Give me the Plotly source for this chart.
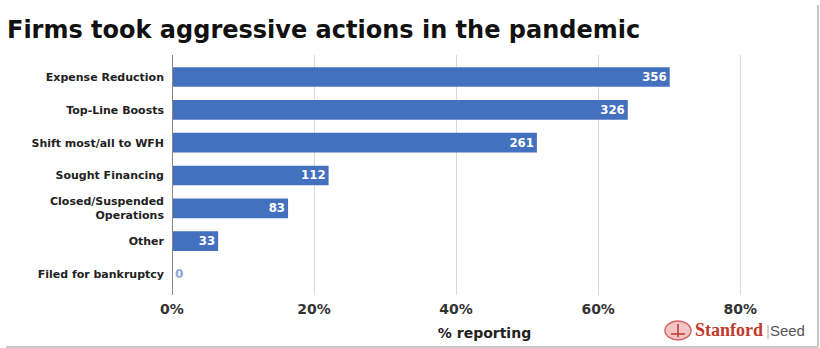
import plotly.graph_objects as go

categories = ["Expense Reduction", "Top-Line Boosts", "Shift most/all to WFH",
              "Sought Financing", "Closed/Suspended<br>Operations", "Other",
              "Filed for bankruptcy"]
counts = [356, 326, 261, 112, 83, 33, 0]
total_respondents = 508
tick_vals = [0, 20, 40, 60, 80]
tick_text = ["0%", "20%", "40%", "60%", "80%"]

pct = [c / total_respondents * 100 for c in counts]
positions = ["inside" if c > 0 else "outside" for c in counts]

W, H = 820, 348
L, R, T, B = 172, 23, 55, 53

fig = go.Figure(go.Bar(
    x=pct, y=categories, orientation="h",
    marker=dict(color="#4470C0", line=dict(width=0)),
    width=0.6,
    text=[str(c) for c in counts],
    textposition=positions,
    insidetextanchor="end",
    insidetextfont=dict(family="DejaVu Sans", size=12, color="white", weight="bold"),
    outsidetextfont=dict(family="DejaVu Sans", size=12, color="#8AA6DC", weight="bold"),
    textfont=dict(family="DejaVu Sans", size=12, weight="bold"),
    cliponaxis=False,
    hoverinfo="skip",
))

fig.update_layout(
    width=W, height=H,
    margin=dict(l=L, r=R, t=T, b=B, pad=0, autoexpand=False),
    paper_bgcolor="white", plot_bgcolor="white",
    showlegend=False,
    title=dict(text="<b>Firms took aggressive actions in the pandemic</b>",
               font=dict(family="DejaVu Sans", size=24, color="#111"),
               x=7 / W, xanchor="left", xref="container",
               y=1 - 30 / H, yanchor="middle", yref="container",
               automargin=False),
    xaxis=dict(range=[0, 88], tickvals=tick_vals, ticktext=tick_text,
               automargin=False,
               showgrid=True, gridcolor="#D9D9D9", gridwidth=1,
               zeroline=False, showline=False, ticks="",
               ticklabelstandoff=4,
               tickfont=dict(family="DejaVu Sans", size=14, color="#333", weight="bold"),
               title=dict(text="<b>% reporting</b>", standoff=12,
                          font=dict(family="DejaVu Sans", size=14, color="#222")),
               fixedrange=True),
    yaxis=dict(autorange=False, range=[6.64, -0.67], type="category",
               automargin=False,
               showgrid=False, zeroline=False, ticks="", ticklabelstandoff=7,
               showline=False,
               tickfont=dict(family="DejaVu Sans", size=11, color="#222", weight="bold"),
               fixedrange=True),
    bargap=0.4,
)

# dark vertical axis line at 0
fig.add_shape(type="line", xref="x", yref="paper", x0=0, x1=0, y0=0, y1=1,
              line=dict(color="#888", width=2))

def px_x(x):
    return (x - L) / (W - L - R)

def px_y(y):
    return (H - B - y) / (H - T - B)

# image border (right and bottom)
fig.add_shape(type="line", xref="paper", yref="paper",
              x0=px_x(818), x1=px_x(818), y0=px_y(347), y1=px_y(5),
              line=dict(color="#C8C8C8", width=2))
fig.add_shape(type="line", xref="paper", yref="paper",
              x0=px_x(6), x1=px_x(818), y0=px_y(347), y1=px_y(347),
              line=dict(color="#C8C8C8", width=2))

# Stanford Seed logo
fig.add_shape(type="circle", xref="paper", yref="paper",
              x0=px_x(665), x1=px_x(691), y0=px_y(340), y1=px_y(321),
              fillcolor="#F2C4C4", line=dict(color="#D46A6A", width=1.5))
fig.add_shape(type="line", xref="paper", yref="paper",
              x0=px_x(678), x1=px_x(678), y0=px_y(337), y1=px_y(324),
              line=dict(color="#C0392B", width=1.5))
fig.add_shape(type="line", xref="paper", yref="paper",
              x0=px_x(671), x1=px_x(685), y0=px_y(334), y1=px_y(334),
              line=dict(color="#C0392B", width=1.5))
fig.add_annotation(xref="paper", yref="paper", x=px_x(693), y=px_y(330),
                   xanchor="left", yanchor="middle", showarrow=False,
                   text="<b>Stanford</b>",
                   font=dict(family="Liberation Serif", size=18, color="#C0392B"))
fig.add_annotation(xref="paper", yref="paper", x=px_x(764), y=px_y(330),
                   xanchor="left", yanchor="middle", showarrow=False,
                   text="<span style='color:#BBB'>|</span>Seed",
                   font=dict(family="Liberation Sans", size=15, color="#555"))

fig.write_html("out.html")
